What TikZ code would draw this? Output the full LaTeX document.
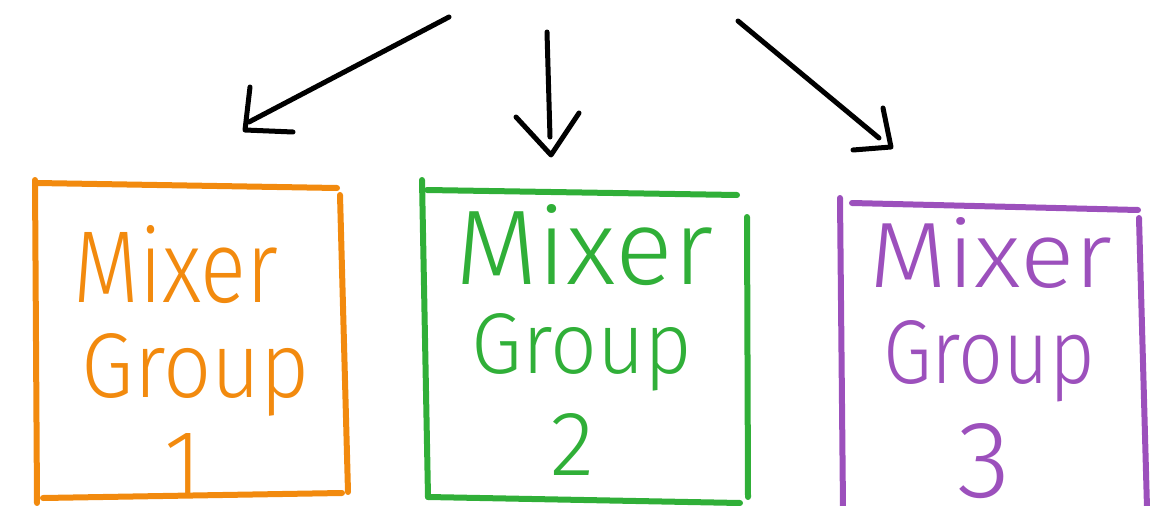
\documentclass[tikz,border=0pt]{standalone}
\usepackage{fontspec}
\newfontfamily\hand{Fira Sans Light}
\usepackage{graphicx}
\definecolor{orng}{HTML}{F28A0E}
\definecolor{grn}{HTML}{30AF38}
\definecolor{prpl}{HTML}{9C50BC}
\begin{document}
\begin{tikzpicture}[x=1pt,y=-1pt, line cap=round, line join=round,
  edge/.style={line width=6pt},
  arr/.style={line width=5pt, black},
  word/.style={font=\hand\fontsize{100}{100}\selectfont, anchor=base, inner sep=0pt},
]
\useasboundingbox (0,0) rectangle (1165,506);

% ---- orange box
\draw[edge, orng] (35,180) -- (37,503);
\draw[edge, orng] (37,183) -- (337,188);
\draw[edge, orng] (340,195) -- (348,492);
\draw[edge, orng] (43,498) -- (342,493);
\node[word, text=orng] (m1) at (176,302) {\resizebox{205pt}{77pt}{Mixer}};
\node[word, text=orng] (g1) at (196,397) {\resizebox{228pt}{64pt}{Group}};
\node[word, text=orng] (n1) at (183,493) {\resizebox{!}{60pt}{1}};

% ---- green box
\draw[edge, grn] (422,180) -- (428,497);
\draw[edge, grn] (427,190) -- (737,195);
\draw[edge, grn] (747,217) -- (748,497);
\draw[edge, grn] (428,497) -- (740,503);
\node[word, text=grn] (m2) at (584,284) {\resizebox{258pt}{80pt}{Mixer}};
\node[word, text=grn] (g2) at (582,373) {\resizebox{221pt}{60pt}{Group}};
\node[word, text=grn] (n2) at (572,475) {\resizebox{!}{62pt}{2}};

% ---- purple box
\draw[edge, prpl] (840,198) -- (843,508);
\draw[edge, prpl] (852,203) -- (1138,210);
\draw[edge, prpl] (1139,218) -- (1147,508);
\node[word, text=prpl] (m3) at (991,287) {\resizebox{243pt}{70pt}{Mixer}};
\node[word, text=prpl] (g3) at (989,383) {\resizebox{212pt}{63pt}{Group}};
\node[word, text=prpl] (n3) at (984,497) {\resizebox{!}{74pt}{3}};

% ---- arrows
\coordinate (s1) at (449,17);
\coordinate (e1) at (249,122);
\coordinate (t1) at (245,130);
\coordinate (h1a) at (250,87);
\coordinate (h1b) at (293,132);
\draw[arr] (s1) -- (e1);
\draw[arr] (h1a) -- (t1) -- (h1b);

\coordinate (s2) at (547,32);
\coordinate (e2) at (550,137);
\coordinate (t2) at (551,155);
\coordinate (h2a) at (516,117);
\coordinate (h2b) at (579,113);
\draw[arr] (s2) -- (e2);
\draw[arr] (h2a) -- (t2) -- (h2b);

\coordinate (s3) at (738,21);
\coordinate (e3) at (879,138);
\coordinate (t3) at (891,147);
\coordinate (h3a) at (883,108);
\coordinate (h3b) at (853,150);
\draw[arr] (s3) -- (e3);
\draw[arr] (h3a) -- (t3) -- (h3b);
\end{tikzpicture}
\end{document}
